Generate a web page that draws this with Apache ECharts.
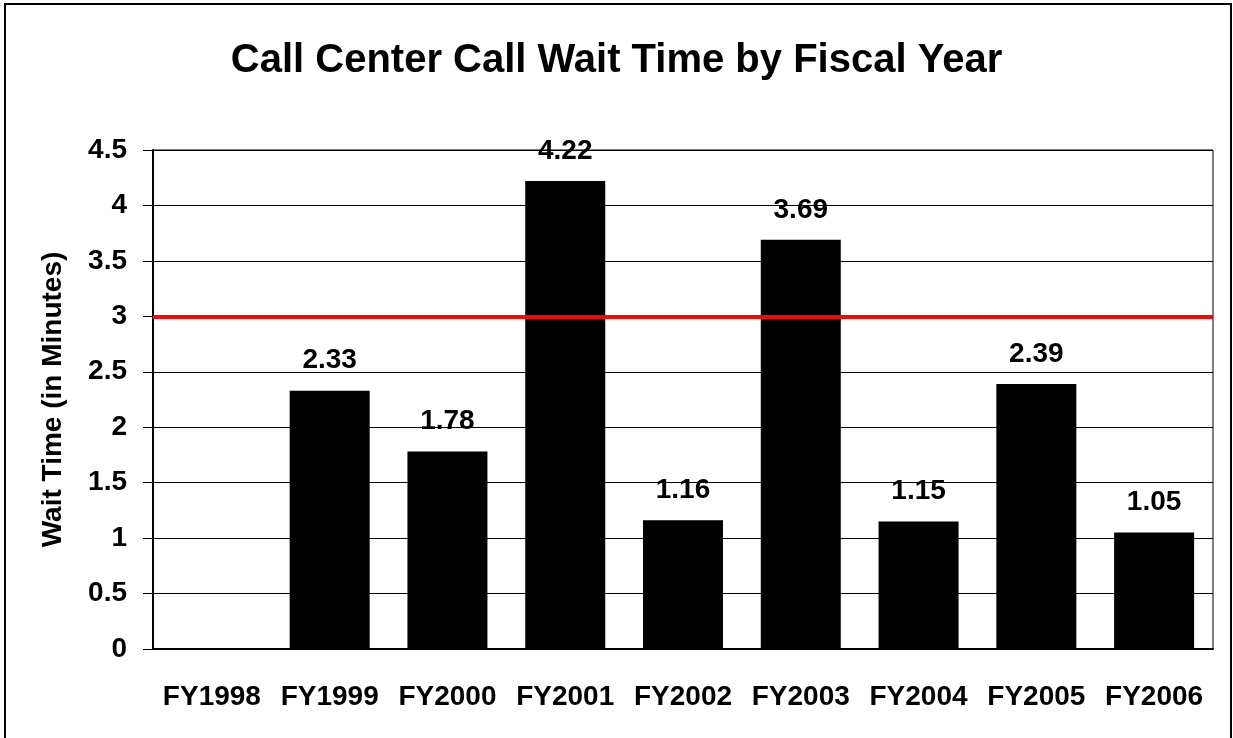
<!DOCTYPE html>
<html>
<head>
<meta charset="utf-8">
<script src="https://cdn.jsdelivr.net/npm/echarts@6/dist/echarts.min.js"></script>
<style>
  html, body { margin: 0; padding: 0; background: #fff; }
  #chart { width: 1233px; height: 738px; }
</style>
</head>
<body>
<div id="chart"></div>
<script>
// data
const years = ["FY1998", "FY1999", "FY2000", "FY2001", "FY2002", "FY2003", "FY2004", "FY2005", "FY2006"];
const waitTimes = [null, 2.33, 1.78, 4.22, 1.16, 3.69, 1.15, 2.39, 1.05];
const targetLine = 3;
const yTicks = { min: 0, max: 4.5, step: 0.5 };

const font = "'Liberation Sans', Arial, sans-serif";

const chart = echarts.init(document.getElementById("chart"));
chart.setOption({
  animation: false,
  backgroundColor: "#fff",
  textStyle: { fontFamily: font },
  title: {
    text: "Call Center Call Wait Time by Fiscal Year",
    left: "center",
    top: 36,
    textStyle: { color: "#000", fontSize: 40, fontWeight: "bold", fontFamily: font },
  },
  // outer chart frame
  graphic: [{
    type: "rect",
    shape: { x: 5, y: 4, width: 1226, height: 745 },
    style: { fill: "none", stroke: "#000", lineWidth: 2 },
    silent: true,
  }],
  grid: {
    left: 153,
    right: 20,
    top: 150,
    bottom: 89,
    show: true,
    borderColor: "#000",
    borderWidth: 1,
  },
  xAxis: {
    type: "category",
    data: years,
    axisLine: { lineStyle: { color: "#000", width: 2 } },
    axisTick: { length: 10, lineStyle: { color: "#000", width: 1 } },
    axisLabel: { color: "#000", fontSize: 28, fontWeight: "bold", margin: 34, interval: 0 },
  },
  yAxis: {
    type: "value",
    min: yTicks.min,
    max: yTicks.max,
    interval: yTicks.step,
    name: "Wait Time (in Minutes)",
    nameLocation: "middle",
    nameRotate: 90,
    nameGap: 86,
    nameTextStyle: { color: "#000", fontSize: 28, fontWeight: "bold" },
    axisLine: { show: true, lineStyle: { color: "#000", width: 2 } },
    axisTick: { show: true, length: 10, lineStyle: { color: "#000" } },
    axisLabel: { color: "#000", fontSize: 28, fontWeight: "bold", margin: 26 },
    splitLine: { lineStyle: { color: "#000", width: 1 } },
  },
  series: [{
    type: "bar",
    data: waitTimes,
    barWidth: 80,
    itemStyle: { color: "#000" },
    label: {
      show: true,
      position: "top",
      distance: 16,
      color: "#000",
      fontSize: 28,
      fontWeight: "bold",
      formatter: (p) => p.value.toFixed(2),
    },
    markLine: {
      silent: true,
      symbol: "none",
      label: { show: false },
      lineStyle: { color: "#ff0000", width: 4, type: "solid" },
      data: [{ yAxis: targetLine }],
    },
  }],
});
</script>
</body>
</html>
